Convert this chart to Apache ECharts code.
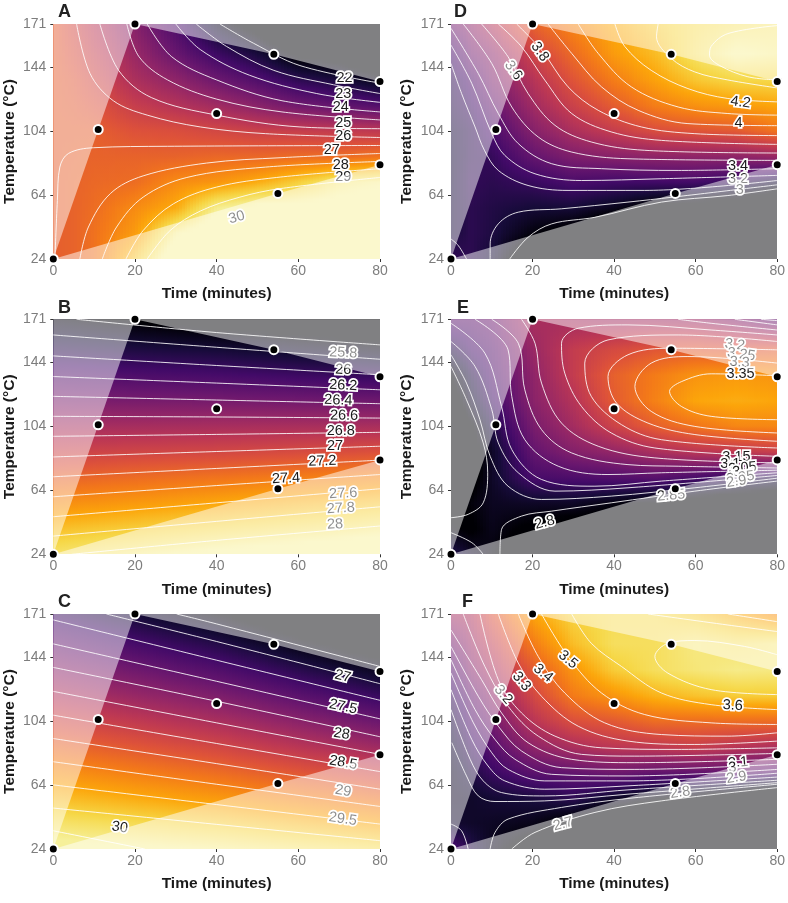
<!DOCTYPE html>
<html><head><meta charset="utf-8">
<style>html,body{margin:0;padding:0;background:#fff}#c{width:788px;height:903px}</style>
<script src="https://cdn.jsdelivr.net/npm/echarts@6/dist/echarts.min.js"></script>
</head><body><div id="c"></div>
<script>
// ---------- shared axes and design points ----------
const xTicks = [0, 20, 40, 60, 80];
const yTicks = [24, 64, 104, 144, 171];
const rowTemps = [24, 40, 56, 72, 88, 104, 120, 136, 152, 171];
const colsFine = [0, 5, 10, 20, 30, 40, 50, 60, 70, 80];
const colsCoarse = [0, 20, 40, 60, 80];
const pointTimes = [0, 11, 20, 40, 54, 55, 80, 80];
const pointTemps = [24, 105, 171, 115, 152, 65, 135, 83];
const washLeft = [[0, 24], [20, 171], [0, 171]];
const washTop = [[20, 171], [54, 152], [80, 135], [80, 171]];
const washBottom = [[0, 24], [55, 65], [80, 83], [80, 24]];
const inferno = ['#000004', '#160b39', '#420a68', '#6a176e', '#932667', '#bc3754', '#dd513a', '#f37819', '#fca50a', '#f6d746', '#f6f09a'];

// ---------- response values, rows = rowTemps ----------
const fieldA = [
[26.9,27,27.3,28.9,30.6,30.7,30.6,30.6,30.5,30.5],
[26.9,27,27.3,28.1,29.9,30.6,30.6,30.6,30.5,30.5],
[26.9,27,27.2,27.8,28.4,29.9,30.3,30.3,30.3,30.5],
[26.9,27,27.1,27.2,27.8,28,28.4,29,29.7,29.9],
[26.9,26.95,27,27,27,27.1,27.1,27.2,27.2,27.4],
[26.9,26.9,26.9,26.6,26.5,26.3,26.1,26,25.9,25.8],
[26.9,26.8,26.6,26,25.6,25.2,24.7,24.2,23.9,23.6],
[26.9,26.7,26.3,25.4,24.8,24.1,23.5,22.8,22.4,21.8],
[26.9,26.5,26,25,24,23.1,22.4,21.3,21,20],
[26.9,26.3,25.7,24.6,23.4,22,21,19.5,19,18]];
const fieldB = [
[28.15,28.25,28.35,28.43,28.5],
[27.93,28,28.08,28.15,28.23],
[27.66,27.73,27.8,27.88,27.96],
[27.41,27.47,27.52,27.58,27.64],
[27.15,27.18,27.2,27.24,27.28],
[26.9,26.9,26.91,26.92,26.92],
[26.64,26.62,26.61,26.58,26.56],
[26.39,26.35,26.31,26.25,26.2],
[26.13,26.08,26.03,25.95,25.87],
[25.84,25.75,25.65,25.58,25.5]];
const fieldC = [
[30.32,30.24,30.16,30.05,29.94],
[30,29.9,29.79,29.65,29.5],
[29.67,29.54,29.41,29.24,29.07],
[29.34,29.19,29.04,28.84,28.63],
[29.02,28.85,28.67,28.43,28.19],
[28.69,28.49,28.29,28.02,27.75],
[28.36,28.14,27.92,27.62,27.32],
[28.04,27.79,27.54,27.21,26.88],
[27.71,27.44,27.17,26.8,26.44],
[27.33,27.03,26.72,26.33,25.93]];
const fieldD = [
[3.22,3.2,3.12,2.85,2.72,2.6,2.6,2.6,2.55,2.5],
[3.14,3.2,3.16,3.02,2.95,2.8,2.7,2.7,2.65,2.6],
[3.14,3.2,3.17,3.13,3.13,3.06,2.95,2.9,2.85,2.75],
[3.13,3.22,3.2,3.24,3.3,3.27,3.27,3.28,3.22,3.12],
[3.13,3.2,3.23,3.38,3.47,3.5,3.52,3.52,3.52,3.55],
[3.14,3.2,3.3,3.49,3.62,3.71,3.79,3.82,3.84,3.93],
[3.18,3.25,3.38,3.58,3.73,3.85,3.96,4.02,4.05,4.08],
[3.2,3.31,3.47,3.65,3.82,3.96,4.07,4.17,4.22,4.22],
[3.27,3.43,3.52,3.74,3.9,4.05,4.14,4.27,4.36,4.33],
[3.42,3.53,3.65,3.87,3.99,4.1,4.19,4.25,4.28,4.3]];
const fieldE = [
[2.88,2.83,2.79,2.72,2.65,2.62,2.6,2.55,2.55,2.55],
[2.79,2.77,2.81,2.76,2.73,2.72,2.68,2.62,2.6,2.6],
[2.75,2.79,2.82,2.83,2.83,2.8,2.77,2.73,2.7,2.68],
[2.72,2.75,2.83,2.94,2.95,2.96,2.97,2.94,2.9,2.87],
[2.7,2.74,2.83,2.99,3.05,3.08,3.12,3.15,3.16,3.18],
[2.72,2.77,2.87,3.03,3.11,3.19,3.26,3.3,3.33,3.33],
[2.74,2.83,2.92,3.06,3.14,3.25,3.32,3.38,3.39,3.38],
[2.78,2.87,2.95,3.07,3.17,3.26,3.31,3.35,3.36,3.35],
[2.87,2.93,2.97,3.09,3.17,3.21,3.24,3.25,3.24,3.25],
[2.98,2.98,3.01,3.12,3.11,3.1,3.1,3.09,3.05,2.98]];
const fieldF = [
[2.95,2.85,2.76,2.66,2.55,2.5,2.42,2.4,2.4,2.4],
[2.8,2.79,2.78,2.76,2.69,2.62,2.52,2.5,2.47,2.45],
[2.78,2.79,2.81,2.83,2.87,2.79,2.73,2.7,2.63,2.55],
[2.78,2.84,2.9,2.98,3,3.03,3,3,3,2.96],
[2.8,2.89,2.97,3.1,3.17,3.21,3.22,3.24,3.2,3.17],
[2.83,2.95,3.04,3.2,3.3,3.33,3.38,3.38,3.38,3.38],
[2.88,3,3.1,3.27,3.41,3.47,3.53,3.56,3.58,3.58],
[2.95,3.08,3.17,3.33,3.47,3.58,3.63,3.66,3.68,3.67],
[3.03,3.13,3.23,3.41,3.55,3.63,3.63,3.67,3.65,3.67],
[3.15,3.18,3.31,3.5,3.6,3.62,3.62,3.58,3.52,3.45]];

// ---------- contour lines, [time, temperature] ----------
const contoursA = [
[[40.8,171],[49,159],[60.4,145],[80,134]],
[[35,171],[42.4,157],[54,142],[68.6,133],[80,127.5]],
[[30,171],[36,155],[48,139],[64.5,127.5],[80,122]],
[[23,171],[29,150.5],[40,136],[56,123],[80,116]],
[[18,171],[21,150.5],[28,136],[40,124],[56,116],[80,111]],
[[11.4,171],[16,142],[24,125],[40,114],[60.4,106.6],[80,105.5]],
[[5.7,171],[9,140],[14.7,123],[23,114],[36,106.6],[52,102.4],[80,100]],
[[0.4,24],[1,60.6],[1.6,81.5],[3.7,90],[9.8,93.6],[28,94.5],[80,95]],
[[6.5,24],[8.6,44],[14,65],[22,76],[37.5,84],[56,87.4],[80,90]],
[[12,24],[15.5,44],[22,62.7],[32.7,75],[52,81.5],[80,85]],
[[17.8,24],[22,41.8],[29.4,58.5],[40,69],[54.7,75],[80,80.5]],
[[23,24],[28.6,41.8],[36,54],[45.7,62.7],[55.5,68],[80,75]]];
const contoursB = [
[[5.7,171],[40,162.7],[80,155]],
[[0,161.2],[40,153.5],[80,146]],
[[0,148.1],[40,142.1],[80,136.3]],
[[0,135.2],[40,131.1],[80,126.9]],
[[0,122.8],[40,120.5],[80,118.2]],
[[0,110.3],[40,109.9],[80,109.2]],
[[0,97.8],[40,99],[80,100.3]],
[[0,84.9],[40,88.3],[80,91.6]],
[[0,72.5],[40,77.7],[80,82.9]],
[[0,60],[40,67],[80,73.9]],
[[0,47.5],[40,56.2],[80,65]],
[[0,35.4],[40,44.6],[80,53.7]],
[[4.5,24],[40,32.7],[80,41.7]]];
const contoursC = [
[[30.2,171],[40,164.8],[80,138.2]],
[[13,171],[40,153.8],[80,127.4]],
[[0,167.3],[40,142.1],[80,117]],
[[0,152.3],[40,128.9],[80,105.4]],
[[0,137.6],[40,116.4],[80,94.2]],
[[0,122.6],[40,102.9],[80,83.2]],
[[0,107.7],[40,90],[80,72.4]],
[[0,93.1],[40,77.4],[80,61.4]],
[[0,78.6],[40,64.5],[80,50.6]],
[[0,64.1],[40,51.8],[80,39.6]],
[[0,49.6],[40,39.4],[80,29.2]],
[[0,35.4],[22.4,24]]];
const contoursD = [
[[80,170],[67.9,165],[63.8,157],[63.4,151.5],[65.9,145],[72.8,138],[80,136]],
[[50.8,171],[50.4,163],[54,149.5],[59.8,141],[67.9,136],[80,131]],
[[40.2,171],[42.6,157],[49.1,142],[58.1,130.6],[67.9,124.4],[80,122.3]],
[[31.2,171],[36.1,152.6],[44.2,131.7],[55.7,119.1],[67.9,115],[80,114]],
[[23.8,171],[29.6,152.6],[36.9,131.7],[45.9,117],[58.1,108.7],[80,107.4]],
[[16.1,171],[22.2,154.7],[28.7,131.7],[36.1,117],[46.7,106.6],[59.8,102.4],[80,101.2]],
[[11.6,171],[17.3,156.8],[23,135.9],[29.6,115],[39.3,103.5],[51.6,98.2],[80,95.7]],
[[7.5,171],[14,150.5],[18.9,127.5],[25.5,107.6],[34.4,97.2],[47.5,92],[80,90.3]],
[[3,171],[10,146.3],[14.9,119.1],[21.4,100.3],[29.6,90.9],[43.4,86.7],[80,85.7]],
[[0,168.3],[6.7,140],[11.6,115],[16.5,96.2],[24.7,83.6],[36.9,80.5],[55.7,79.4],[80,80.5]],
[[0,157.8],[5.1,133.8],[10,102.4],[13.2,88.8],[20.6,77.3],[32,73.1],[51.6,74.2],[80,76.3]],
[[0,146.3],[2.6,127.5],[5.9,106.6],[8.2,92],[11.6,79.4],[18.9,70],[28.7,66.9],[47.5,66.9],[80,73.1]],
[[9.6,24],[9.6,33.4],[11.6,46],[16.5,53.3],[27.1,55.4],[43.4,59.6],[54.4,62.7],[80,70.4]],
[[14.4,24],[18.9,37.6],[24.7,46],[35.3,50.1],[51.6,59.6],[67.9,63.7],[80,67.9]],
[[0,36.5],[1.8,32.4],[3.8,24]]];
const contoursE = [
[[80,135.7],[63.8,136.9],[56.5,132],[53.6,125.9],[56.5,116.5],[63.8,110.3],[80,108.2]],
[[80,143.6],[58.1,147.7],[49.1,143.6],[45.1,129],[49.1,113.4],[59.8,104],[80,99.9]],
[[80,151.9],[54,152.9],[43.4,148.8],[38.5,135.2],[40.6,118.6],[48.3,106.1],[59.8,98.9],[80,94.7]],
[[80,157.1],[55.7,161.2],[38.5,158.1],[32.8,143.6],[34.4,122.8],[41.8,105.1],[51.6,95.7],[80,90.5]],
[[80,161.2],[63.8,164.3],[43.4,167.5],[31.2,165.4],[27.1,156],[27.9,137.3],[32,116.5],[39.3,99.9],[50,90.5],[80,85.3]],
[[80,164.3],[63.8,168.5],[55.7,171]],
[[17.3,171],[20.6,156],[22.2,131.1],[27.1,106.1],[36.1,91.6],[50,84.3],[80,81.2]],
[[80,167.5],[69.6,171]],
[[10,171],[16.5,156],[18.1,126.9],[22.2,102],[29.6,87.4],[43.4,80.1],[55.7,79.1],[80,78]],
[[80,170.2],[76,171]],
[[5.9,171],[14,151.9],[14.9,122.8],[18.1,95.7],[26.3,79.1],[38.5,73.9],[51.6,75],[80,76.6]],
[[0,168.5],[8.3,149.8],[12.4,116.5],[14.9,89.5],[22.2,70.8],[35.3,66.6],[51.6,69.8],[80,75]],
[[0,157.1],[5.9,141.5],[10,114.5],[11.6,93.7],[16.5,75],[25.5,63.5],[43.4,65.6],[80,73.3]],
[[0,148.8],[3.8,131.1],[7.1,108.2],[9.6,85.3],[14,66.6],[22.2,58.3],[39.3,60.4],[59.8,65.6],[80,71.6]],
[[12,24],[12.4,39.6],[17.3,47.9],[24.7,51],[39.3,56.2],[59.8,63.5],[80,69.8]],
[[0,141.5],[3.8,120.7],[7.9,93.7],[9,75],[7.9,56.2],[4.2,49],[0,46.9]],
[[0,37.5],[5.1,31.3],[7.9,24]]];
const contoursF = [
[[80,145.5],[72,150.7],[59.8,154.4],[53.2,152.7],[50,144.4],[53.2,134],[63.8,123.7],[80,120.6]],
[[29.6,171],[34.4,152.7],[41.8,138.2],[51.6,121.6],[63.8,114.3],[80,111.2]],
[[48.3,171],[67.9,164.1],[80,160]],
[[22.2,171],[28.7,144.4],[36.9,121.6],[47.5,108.1],[63.8,102.9],[80,101.9]],
[[67.9,171],[80,166.2]],
[[16.5,171],[21.4,144.4],[27.9,121.6],[37.7,102.9],[51.6,95.6],[67.9,94.6],[80,96.7]],
[[11.6,171],[16.5,140.3],[22.2,119.5],[31.2,100.8],[43.4,91.5],[59.8,89.4],[80,91.5]],
[[7.1,171],[11.6,129.9],[17.3,109.1],[25.5,94.6],[36.9,87.3],[55.7,86.3],[80,87.3]],
[[3,171],[8.3,138.2],[14,113.3],[21.4,94.6],[32,83.2],[45.1,82.1],[80,83.8]],
[[0,161],[7.5,129.9],[12.4,109.1],[18.9,90.5],[29.6,80.1],[45.1,78],[80,80.1]],
[[0,150.7],[6.7,119.5],[11.6,100.8],[17.3,85.3],[27.1,74.9],[45.1,73.8],[80,77]],
[[0,142.4],[5.9,111.2],[10.8,92.5],[15.7,80.1],[24.7,70.7],[43.4,69.7],[80,73.8]],
[[0,134.1],[5.5,102.9],[10,84.2],[14,73.8],[23,66.6],[43.4,66.6],[80,71.4]],
[[0,123.7],[5.1,92.5],[9.1,75.9],[13.2,66.6],[23,61.4],[43.4,63.5],[80,69]],
[[0,111.2],[4.7,80.1],[7.9,66.6],[12.4,59.3],[23,57.2],[43.4,61],[80,67]],
[[0.2,90.5],[3.8,69.7],[6.7,57.2],[10.8,53.7],[23,54.1],[43.4,58.3],[80,65.5]],
[[9.6,24],[10.8,34.4],[14,42.7],[27.1,50],[43.4,55.6],[80,64.5]],
[[14.9,24],[20.6,34.4],[35.3,46.9],[51.6,54.1],[80,62.4]],
[[0,39.6],[2.6,35.4],[4.2,24]]];

// ---------- contour labels: [time, temperature, text, rotation in degrees] ----------
const labelsA = [[71.3,137,'22',0],[71,127,'23',0],[70.4,119,'24',0],[71,109,'25',0],[71,101,'26',0],[68.2,92,'27',0],[70.4,83,'28',0],[71,75,'29',0],[44.9,50,'30',15]];
const labelsB = [[71,150,'25.8',-3],[71,139.4,'26',-3],[71,129.6,'26.2',-3],[69.8,120.3,'26.4',-2],[71.2,110.7,'26.6',-1],[70.4,101,'26.8',0],[69,92,'27',0],[65.9,82.2,'27.2',2],[57,71.4,'27.4',3],[71,62,'27.6',3],[70.4,52.7,'27.8',3],[69,42.7,'28',3]];
const labelsC = [[70.9,132,'27',-14],[71,113,'27.5',-12],[70.6,96,'28',-10],[71,78,'28.5',-10],[71,60.3,'29',-10],[70.9,42.7,'29.5',-8],[16.3,37.5,'30',-8]];
const labelsD = [[21.8,153.6,'3.8',-55],[15.3,142,'3.6',-55],[71,122,'4.2',-8],[70.5,109,'4',0],[70.4,82,'3.4',0],[70.4,74,'3.2',0],[70.8,67,'3',0]];
const labelsE = [[69.6,155,'3.2',-8],[71.2,149,'3.25',-8],[70.8,144,'3.3',-5],[71,137,'3.35',0],[70,85,'3.15',0],[68.5,80.5,'3.1',0],[71.5,78,'3.05',5],[70,75.5,'3',5],[71,72,'2.95',8],[70,69.5,'2.9',8],[54,60.8,'2.85',5],[23,43.8,'2.8',15]];
const labelsF = [[28.7,142.4,'3.5',-40],[22.6,134,'3.4',-40],[17.3,128.9,'3.3',-50],[12.8,120.6,'3.2',-50],[69.1,113.7,'3.6',-3],[70.4,78,'3.1',5],[69,74.9,'3',5],[70,68.7,'2.9',8],[56.2,59.3,'2.8',8],[27.5,39.6,'2.7',15]];

// ---------- panels ----------
const panels = [
 {name:'A', field:fieldA, cols:colsFine,   lim:[21.5,30],   lines:contoursA, labels:labelsA, left:53.3, top:24,    lx:65,  ly:13},
 {name:'B', field:fieldB, cols:colsCoarse, lim:[25.78,28.3],lines:contoursB, labels:labelsB, left:53.3, top:319.3, lx:65,  ly:309},
 {name:'C', field:fieldC, cols:colsCoarse, lim:[26.7,30.2], lines:contoursC, labels:labelsC, left:53.3, top:614,   lx:65,  ly:603},
 {name:'D', field:fieldD, cols:colsFine,   lim:[3,4.35],    lines:contoursD, labels:labelsD, left:451,  top:24,    lx:461, ly:13},
 {name:'E', field:fieldE, cols:colsFine,   lim:[2.78,3.53], lines:contoursE, labels:labelsE, left:451,  top:319.3, lx:464, ly:309},
 {name:'F', field:fieldF, cols:colsFine,   lim:[2.72,3.7],  lines:contoursF, labels:labelsF, left:451,  top:614,   lx:469, ly:603}
];

function hex(c){return [1,3,5].map(i=>parseInt(c.substr(i,2),16));}
const infRGB = inferno.map(hex);
function colorOf(v, lim){
  let p = (v-lim[0])/(lim[1]-lim[0]); p = Math.max(0,Math.min(1,p))*(infRGB.length-1);
  const i = Math.min(Math.floor(p), infRGB.length-2), f = p-i;
  const c = infRGB[i].map((a,k)=>Math.round(a+(infRGB[i+1][k]-a)*f));
  return 'rgb('+c.join(',')+')';
}
function cellsOf(p){
  const out=[];
  for(let r=0;r<rowTemps.length-1;r++) for(let c=0;c<p.cols.length-1;c++)
    out.push([p.cols[c],rowTemps[r],p.cols[c+1],rowTemps[r+1],p.field[r][c],p.field[r][c+1],p.field[r+1][c],p.field[r+1][c+1]]);
  return out;
}
function heatItem(lim){
  return function(params, api){
    const a=api.coord([api.value(0),api.value(3)]), b=api.coord([api.value(2),api.value(1)]);
    const v00=api.value(4),v10=api.value(5),v01=api.value(6),v11=api.value(7);
    const x0=a[0],x1=b[0],y0=Math.round(a[1]),y1=Math.round(b[1]);
    const n=Math.max(1,Math.round((x1-x0)/3)), children=[];
    for(let k=0;k<n;k++){
      const xa=Math.round(x0+(x1-x0)*k/n), xb=Math.round(x0+(x1-x0)*(k+1)/n);
      const u=(k+.5)/n, top=v01+(v11-v01)*u, bot=v00+(v10-v00)*u, stops=[];
      for(let s=0;s<=6;s++) stops.push({offset:s/6,color:colorOf(top+(bot-top)*s/6,lim)});
      children.push({type:'rect',shape:{x:xa,y:y0,width:xb-xa,height:y1-y0},
        style:{fill:new echarts.graphic.LinearGradient(0,0,0,1,stops)},silent:true});
    }
    return {type:'group',children};
  };
}
const option={animation:false,backgroundColor:'#fff',title:[],grid:[],xAxis:[],yAxis:[],series:[]};
const tickLabel={color:'#7d7d7d',fontSize:14,fontFamily:'Liberation Sans'};
const nameStyle={color:'#1a1a1a',fontSize:15.5,fontWeight:'bold',fontFamily:'Liberation Sans'};
panels.forEach((p,i)=>{
  option.title.push({text:p.name,left:p.lx-7,top:p.ly-10,padding:0,textStyle:{fontSize:18,fontWeight:'bold',color:'#222',fontFamily:'Liberation Sans'}});
  option.grid.push({left:p.left,top:p.top,width:326.7,height:235});
  option.xAxis.push({type:'value',gridIndex:i,min:0,max:80,interval:20,name:'Time (minutes)',nameLocation:'middle',nameGap:27,nameTextStyle:nameStyle,
    axisLine:{show:false},axisTick:{length:3,lineStyle:{color:'#333'}},splitLine:{show:false},axisLabel:{...tickLabel,margin:5,customValues:xTicks}});
  option.yAxis.push({type:'value',gridIndex:i,min:24,max:171,name:'Temperature (°C)',nameLocation:'middle',nameGap:36,nameTextStyle:nameStyle,
    axisLine:{show:false},axisTick:{length:3,lineStyle:{color:'#333'},customValues:yTicks},splitLine:{show:false},axisLabel:{...tickLabel,margin:7,customValues:yTicks}});
  const ax={xAxisIndex:i,yAxisIndex:i};
  option.series.push({type:'custom',...ax,z:1,clip:true,silent:true,data:cellsOf(p),encode:{x:[0,2],y:[1,3]},renderItem:heatItem(p.lim)});
  p.lines.forEach(l=>option.series.push({type:'line',...ax,z:2,data:l,smooth:0.35,showSymbol:false,silent:true,clip:true,lineStyle:{color:'#fff',width:1,opacity:.85}}));
  option.series.push({type:'custom',...ax,z:3,silent:true,data:p.labels,encode:{x:0,y:1},renderItem(params,api){
    const c=api.coord([api.value(0),api.value(1)]), it=p.labels[params.dataIndex];
    return {type:'text',x:c[0],y:c[1],rotation:it[3]*Math.PI/180,silent:true,
      style:{text:it[2],fill:'#1a1a1a',stroke:'#fff',lineWidth:3.5,fontSize:14.5,fontFamily:'Liberation Sans',align:'center',verticalAlign:'middle'}};
  }});
  option.series.push({type:'custom',...ax,z:4,clip:true,silent:true,data:[washLeft,washTop,washBottom].map((w,k)=>[k,w[0][0],w[0][1]]),encode:{x:1,y:2},renderItem(params,api){
    const w=[washLeft,washTop,washBottom][params.dataIndex];
    return {type:'polygon',shape:{points:w.map(q=>api.coord(q))},style:{fill:'rgba(255,255,255,0.5)'},silent:true};
  }});
  option.series.push({type:'scatter',...ax,z:5,clip:true,silent:true,symbolSize:9,data:pointTimes.map((t,k)=>[t,pointTemps[k]]),itemStyle:{color:'#000',borderColor:'#fff',borderWidth:2,opacity:1}});
});
echarts.init(document.getElementById('c'),null,{renderer:'canvas'}).setOption(option);
</script></body></html>
